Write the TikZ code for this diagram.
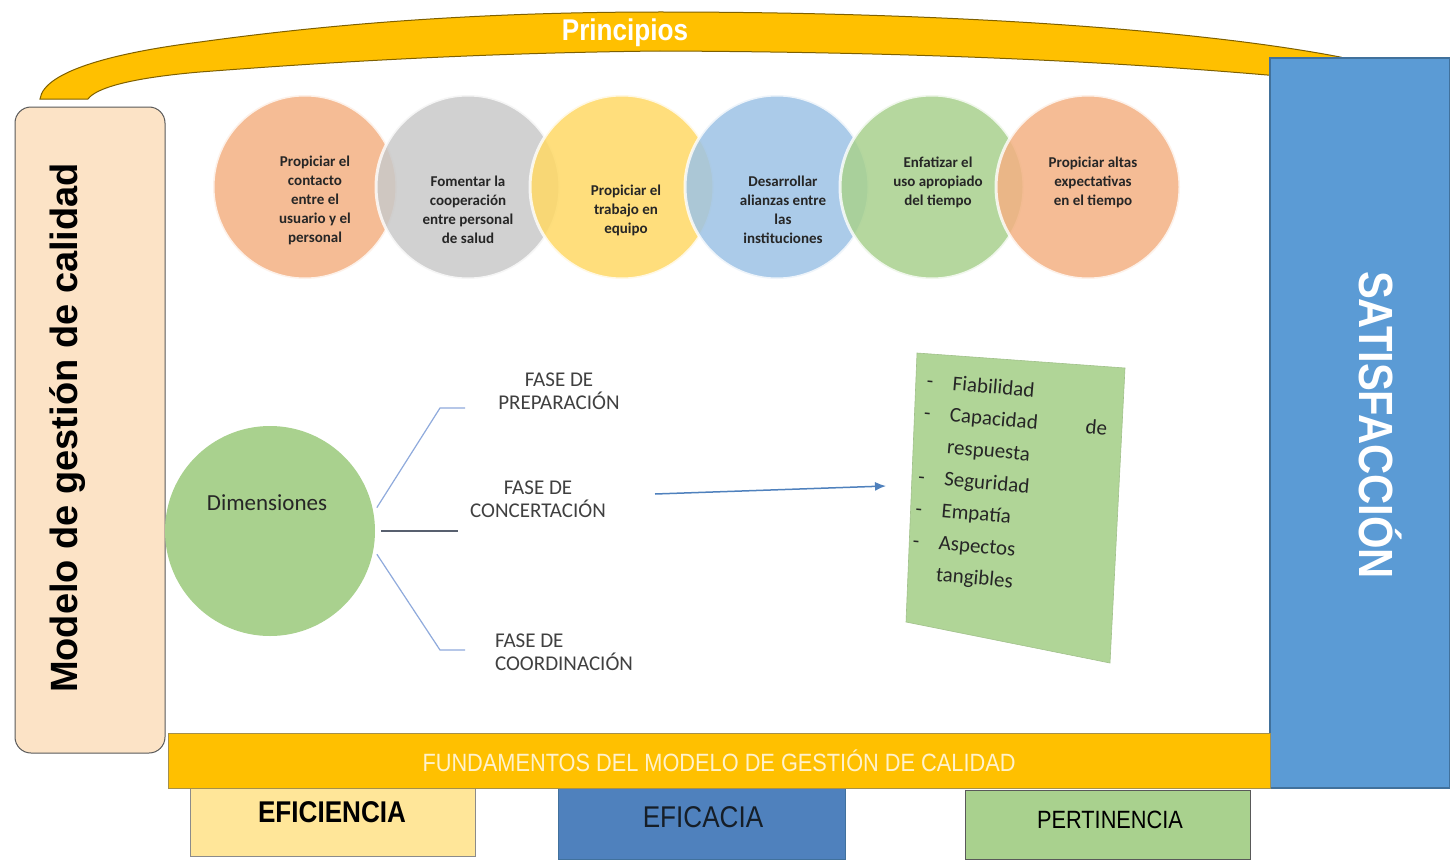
\documentclass[tikz,border=0pt]{standalone}
\usepackage{fontspec}
\setmainfont{Carlito}
\newfontfamily\arialfont{Liberation Sans}
\newfontfamily\narrowfont[FakeStretch=0.87]{Liberation Sans}
\usetikzlibrary{arrows.meta,positioning,calc}

\definecolor{gold}{HTML}{FFC000}
\definecolor{bandedge}{HTML}{7F6000}
\definecolor{peachlight}{HTML}{FCE3C6}
\definecolor{peach}{HTML}{F4B183}
\definecolor{silver}{HTML}{C9C9C9}
\definecolor{sun}{HTML}{FFD966}
\definecolor{sky}{HTML}{9DC3E6}
\definecolor{leaf}{HTML}{A9D18E}
\definecolor{satblue}{HTML}{5B9BD5}
\definecolor{satedge}{HTML}{41719C}
\definecolor{paleyellow}{HTML}{FFE699}
\definecolor{midblue}{HTML}{4F81BD}
\definecolor{boxgray}{HTML}{595959}
\definecolor{darktext}{HTML}{262626}
\definecolor{fasegray}{HTML}{404040}
\definecolor{branchblue}{HTML}{8FAADC}
\definecolor{cream}{HTML}{FFF2CC}

\begin{document}
\begin{tikzpicture}[x=1pt, y=-1pt,
    band/.style={fill=gold, draw=bandedge, line width=1pt},
    principle/.style={circle, minimum size=184pt, inner sep=0pt, draw=white, line width=3pt, fill opacity=0.85, draw opacity=0.8},
    ptext/.style={align=center, text=darktext, font=\bfseries\fontsize{15}{19}\selectfont},
    fase/.style={text=fasegray, font=\fontsize{21}{23}\selectfont},
    branch/.style={draw=branchblue, line width=1.2pt, shorten <=6pt},
    flow/.style={draw=midblue, line width=1.5pt, -{Latex[length=11pt,width=9pt]}},
    pillar/.style={rectangle, inner sep=0pt, line width=1pt}]

  \useasboundingbox (0,0) rectangle (1450,859);
  \fill[white] (0,0) rectangle (1450,859);

  % principios band
  \draw[band] (40,99) .. controls (44,70) and (120,52) .. (200,42)
    .. controls (330,24) and (480,12) .. (660,12)
    .. controls (950,12) and (1200,30) .. (1340,57) -- (1290,77)
    .. controls (1100,60) and (900,52) .. (660,51)
    .. controls (480,53) and (330,62) .. (200,72)
    .. controls (130,78) and (96,88) .. (88,99) -- cycle;
  \node[text=white, font=\narrowfont\bfseries\fontsize{30}{32}\selectfont] (princ) at (625,33) {Principios};

  % side boxes
  \node[pillar, draw=boxgray, fill=peachlight, rounded corners=16pt, minimum width=150pt, minimum height=646pt] (model) at (90,430) {};
  \node[rotate=90, font=\arialfont\bfseries\fontsize{38}{40}\selectfont] (modeltxt) at (68,428) {Modelo de gestión de calidad};

  \node[pillar, draw=satedge, fill=satblue, line width=1.5pt, minimum width=180pt, minimum height=730pt] (sat) at (1360,423) {};
  \node[rotate=-90, text=white, font=\narrowfont\bfseries\fontsize{48}{50}\selectfont] (sattxt) at (1381,425) {SATISFACCIÓN};

  % principles
  \foreach \x/\c [count=\i] in {305/peach,468/silver,622/sun,777/sky,932/leaf,1088/peach}
    \node[principle, fill=\c] (c\i) at (\x,187) {};

  \node[ptext] (t1) at (315,200) {Propiciar el\\contacto\\entre el\\usuario y el\\personal};
  \node[ptext] (t2) at (468,210) {Fomentar la\\cooperación\\entre personal\\de salud};
  \node[ptext] (t3) at (626,210) {Propiciar el\\trabajo en\\equipo};
  \node[ptext] (t4) at (783,210) {Desarrollar\\alianzas entre\\las\\instituciones};
  \node[ptext] (t5) at (938,182) {Enfatizar el\\uso apropiado\\del tiempo};
  \node[ptext] (t6) at (1093,182) {Propiciar altas\\expectativas\\en el tiempo};

  % dimensiones
  \node[circle, fill=leaf, minimum size=210pt, inner sep=0pt] (dim) at (270,531) {};
  \node[text=darktext, font=\fontsize{23}{25}\selectfont] (dimtxt) at (267,503) {Dimensiones};

  \node[fase, align=center] (prep) at (559,391) {FASE DE\\PREPARACIÓN};
  \node[fase, align=center] (conc) at (538,499) {FASE DE\\CONCERTACIÓN};
  \node[fase, align=left] (coord) at (564,652) {FASE DE\\COORDINACIÓN};

  \coordinate (b1) at (440,408);
  \coordinate (e1) at (465,408);
  \coordinate (e2) at (458,531);
  \coordinate (b3) at (440,650);
  \coordinate (e3) at (465,650);
  \draw[branch] (dim.10) -- (b1) -- (e1);
  \draw[branch, draw=fasegray!70!branchblue] (dim.east) -- (e2);
  \draw[branch] (dim.-10) -- (b3) -- (e3);

  % criterios
  \coordinate (g1) at (917,353);
  \coordinate (g2) at (1125,368);
  \coordinate (g3) at (1110,663);
  \coordinate (g4) at (906,622);
  \draw[fill=leaf!92!white, draw=leaf!80!gray, line width=0.6pt] (g1) -- (g2) -- (g3) -- (g4) -- cycle;
  \node[rotate=-5, text=darktext, font=\fontsize{21}{32}\selectfont] (crit) at (1010,485) {%
    \begin{tabular}{@{}p{26pt}@{}l@{}}
      - & Fiabilidad\\
      - & Capacidad\hspace{48pt}de\\
        & respuesta\\
      - & Seguridad\\
      - & Empatía\\
      - & Aspectos\\
        & tangibles
    \end{tabular}};

  \coordinate (as) at (655,494);
  \coordinate (ae) at (886,486);
  \draw[flow] (as) -- (ae);

  % pilares
  \node[pillar, draw=boxgray!70, fill=paleyellow, minimum width=285pt, minimum height=68pt] (efi) at (332.5,822) {};
  \node[pillar, draw=satedge, fill=midblue, minimum width=287pt, minimum height=71pt] (efa) at (701.5,823.5) {};
  \node[pillar, draw=boxgray, fill=leaf, minimum width=285pt, minimum height=69pt] (per) at (1107.5,824.5) {};
  \node[font=\narrowfont\bfseries\fontsize{30}{32}\selectfont] (efitxt) at (332,812) {EFICIENCIA};
  \node[text=darktext!60!midblue!40!black, font=\narrowfont\fontsize{30}{32}\selectfont] (efatxt) at (703,817) {EFICACIA};
  \node[font=\narrowfont\fontsize{25}{27}\selectfont] (pertxt) at (1110,820) {PERTINENCIA};

  \node[pillar, draw=bandedge!70, fill=gold, minimum width=1102pt, minimum height=55pt, text=cream, font=\narrowfont\fontsize{25}{27}\selectfont] (fund) at (719,760.5) {FUNDAMENTOS DEL MODELO DE GESTIÓN DE CALIDAD};
\end{tikzpicture}
\end{document}
